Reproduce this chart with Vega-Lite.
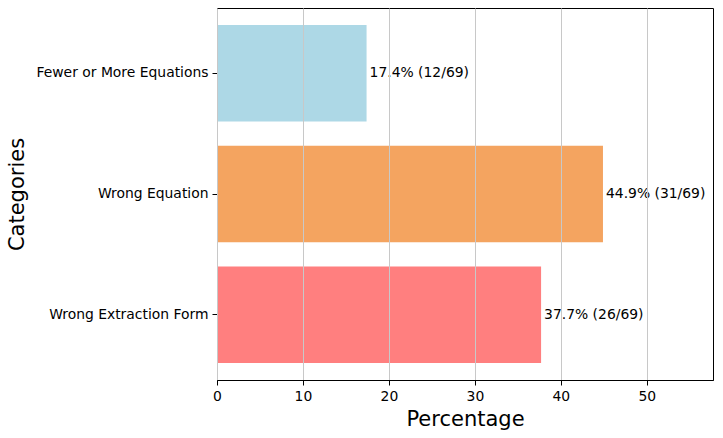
{
  "$schema": "https://vega.github.io/schema/vega-lite/v6.json",
  "width": 496,
  "height": 372,
  "autosize": "none",
  "padding": {"left": 217, "top": 8, "right": 10, "bottom": 58},
  "background": "white",
  "config": {
    "font": "DejaVu Sans",
    "view": {"stroke": "black", "strokeWidth": 1},
    "axis": {
      "labelFont": "DejaVu Sans",
      "titleFont": "DejaVu Sans",
      "labelFontSize": 13.9,
      "labelColor": "black",
      "tickColor": "black",
      "domainColor": "black",
      "tickSize": 5,
      "labelPadding": 4,
      "titleFontSize": 21,
      "titleFontWeight": "normal",
      "titleColor": "black",
      "gridColor": "#c8c8c8",
      "gridWidth": 1
    }
  },
  "data": {
    "values": [
      {"category": "Fewer or More Equations", "pct": 17.4, "label": "17.4% (12/69)"},
      {"category": "Wrong Equation", "pct": 44.9, "label": "44.9% (31/69)"},
      {"category": "Wrong Extraction Form", "pct": 37.7, "label": "37.7% (26/69)"}
    ]
  },
  "encoding": {
    "y": {
      "field": "category",
      "type": "nominal",
      "sort": ["Fewer or More Equations", "Wrong Equation", "Wrong Extraction Form"],
      "scale": {"paddingInner": 0.2, "paddingOuter": 0.14},
      "axis": {"title": "Categories", "titlePadding": 8, "grid": false}
    },
    "x": {
      "field": "pct",
      "type": "quantitative",
      "scale": {"domain": [0, 57.7], "nice": false, "zero": true},
      "axis": {"title": "Percentage", "values": [0, 10, 20, 30, 40, 50], "grid": true, "zindex": 1, "titlePadding": 6, "labelFlush": false}
    }
  },
  "layer": [
    {
      "mark": {"type": "bar"},
      "encoding": {
        "color": {
          "field": "category",
          "type": "nominal",
          "scale": {
            "domain": ["Fewer or More Equations", "Wrong Equation", "Wrong Extraction Form"],
            "range": ["#ADD8E6", "#F4A460", "#FF7F7F"]
          },
          "legend": null
        }
      }
    },
    {
      "mark": {"type": "text", "align": "left", "baseline": "middle", "dx": 3, "fontSize": 13.9, "color": "black", "font": "DejaVu Sans"},
      "encoding": {"text": {"field": "label"}}
    }
  ]
}
